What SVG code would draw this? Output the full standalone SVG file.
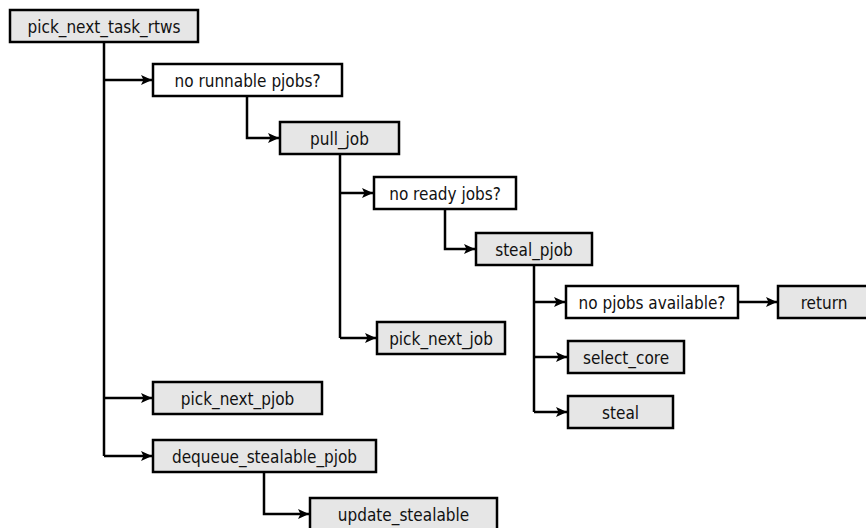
<svg xmlns="http://www.w3.org/2000/svg" width="866" height="528" viewBox="0 0 866 528">
<style>
.box{stroke:#000;stroke-width:2.5}
.g{fill:#e6e6e6}
.w{fill:#fff}
.t{font-family:"DejaVu Sans Condensed","DejaVu Sans",sans-serif;font-stretch:condensed;font-size:17px;fill:#111;text-anchor:middle}
.c{fill:none;stroke:#000;stroke-width:2.5}
</style>
<defs>
<marker id="ah" markerUnits="userSpaceOnUse" markerWidth="12" markerHeight="11" refX="11" refY="5.5" orient="auto">
<path d="M0,0.5 L11,5.5 L0,10.5 L2.5,5.5 z" fill="#000"/>
</marker>
</defs>
<rect width="866" height="528" fill="#fff"/>
<g id="connectors">
<path class="c" d="M104,43 V456"/>
<path class="c" d="M104,80 H152" marker-end="url(#ah)"/>
<path class="c" d="M104,398 H152" marker-end="url(#ah)"/>
<path class="c" d="M104,456 H152" marker-end="url(#ah)"/>
<path class="c" d="M247,97 V138 H279" marker-end="url(#ah)"/>
<path class="c" d="M340,155 V338"/>
<path class="c" d="M340,193 H373" marker-end="url(#ah)"/>
<path class="c" d="M340,338 H376" marker-end="url(#ah)"/>
<path class="c" d="M445,210 V249 H475" marker-end="url(#ah)"/>
<path class="c" d="M534,266 V412"/>
<path class="c" d="M534,302 H565" marker-end="url(#ah)"/>
<path class="c" d="M534,357 H567" marker-end="url(#ah)"/>
<path class="c" d="M534,412 H567" marker-end="url(#ah)"/>
<path class="c" d="M739,302 H777" marker-end="url(#ah)"/>
<path class="c" d="M264,472 V514 H309" marker-end="url(#ah)"/>
</g>
<g id="pick_next_task_rtws"><rect class="box g" x="10" y="10" width="188" height="32"/><text class="t" x="104" y="33">pick_next_task_rtws</text></g>
<g id="no_runnable_pjobs"><rect class="box w" x="153" y="64" width="189" height="32"/><text class="t" x="247.5" y="87">no runnable pjobs?</text></g>
<g id="pull_job"><rect class="box g" x="280" y="122" width="119" height="32"/><text class="t" x="339.5" y="145">pull_job</text></g>
<g id="no_ready_jobs"><rect class="box w" x="374" y="177" width="142" height="32"/><text class="t" x="445" y="200">no ready jobs?</text></g>
<g id="steal_pjob"><rect class="box g" x="476" y="233" width="116" height="32"/><text class="t" x="534" y="256">steal_pjob</text></g>
<g id="no_pjobs_available"><rect class="box w" x="566" y="286" width="172" height="32"/><text class="t" x="652" y="309">no pjobs available?</text></g>
<g id="return"><rect class="box g" x="778" y="286" width="92" height="32"/><text class="t" x="824" y="309">return</text></g>
<g id="select_core"><rect class="box g" x="568" y="341" width="116" height="32"/><text class="t" x="626" y="364">select_core</text></g>
<g id="steal"><rect class="box g" x="568" y="396" width="105" height="32"/><text class="t" x="620.5" y="419">steal</text></g>
<g id="pick_next_job"><rect class="box g" x="377" y="322" width="128" height="32"/><text class="t" x="441" y="345">pick_next_job</text></g>
<g id="pick_next_pjob"><rect class="box g" x="153" y="382" width="169" height="32"/><text class="t" x="237.5" y="405">pick_next_pjob</text></g>
<g id="dequeue_stealable_pjob"><rect class="box g" x="153" y="440" width="223" height="32"/><text class="t" x="264.5" y="463">dequeue_stealable_pjob</text></g>
<g id="update_stealable"><rect class="box g" x="310" y="498" width="187" height="32"/><text class="t" x="403.5" y="521">update_stealable</text></g>
</svg>
